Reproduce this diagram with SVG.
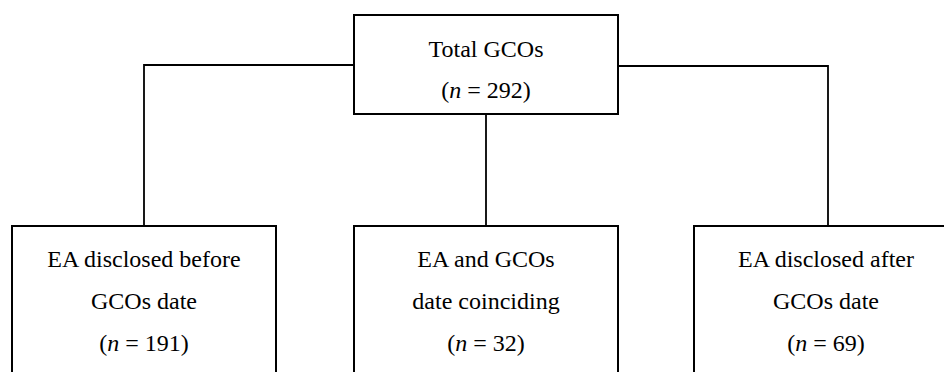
<svg xmlns="http://www.w3.org/2000/svg" width="944" height="372" viewBox="0 0 944 372">
<style>
.box{fill:#fff;stroke:#000;stroke-width:2}
.conn{fill:none;stroke:#000;stroke-width:1.8}
.t{font-family:"Liberation Serif","Times New Roman",serif;font-size:24px;fill:#000;text-anchor:middle}
</style>
<rect width="944" height="372" fill="#fff"/>
<g id="connectors">
<polyline class="conn" points="354,65 144,65 144,226"/>
<polyline class="conn" points="618,66 828,66 828,226"/>
<line class="conn" x1="486" y1="114" x2="486" y2="226"/>
</g>
<g id="total">
<rect class="box" x="354" y="15" width="264" height="99"/>
<text class="t" x="486" y="57">Total GCOs</text>
<text class="t" x="486" y="98">(<tspan font-style="italic">n</tspan> = 292)</text>
</g>
<g id="before">
<rect class="box" x="12" y="226" width="264" height="160"/>
<text class="t" x="144" y="267">EA disclosed before</text>
<text class="t" x="144" y="309">GCOs date</text>
<text class="t" x="144" y="351">(<tspan font-style="italic">n</tspan> = 191)</text>
</g>
<g id="coinciding">
<rect class="box" x="354" y="226" width="264" height="160"/>
<text class="t" x="486" y="267">EA and GCOs</text>
<text class="t" x="486" y="309">date coinciding</text>
<text class="t" x="486" y="351">(<tspan font-style="italic">n</tspan> = 32)</text>
</g>
<g id="after">
<rect class="box" x="694" y="226" width="264" height="160"/>
<text class="t" x="826" y="267">EA disclosed after</text>
<text class="t" x="826" y="309">GCOs date</text>
<text class="t" x="826" y="351">(<tspan font-style="italic">n</tspan> = 69)</text>
</g>
</svg>
